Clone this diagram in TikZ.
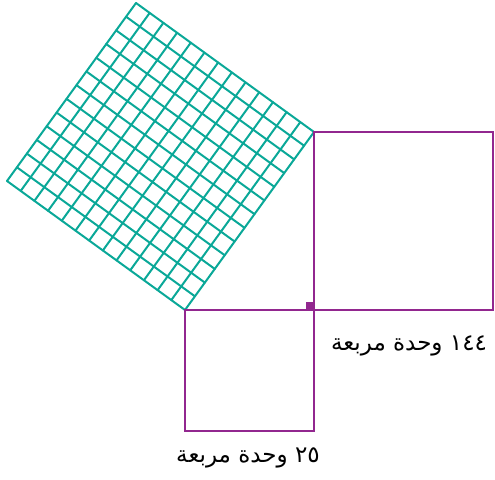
\documentclass[tikz,border=0pt]{standalone}
\usepackage{fontspec}
\newfontfamily\arabicfont[Script=Arabic]{DejaVu Sans}
\TeXXeTstate=1
\usepackage{tikz}
\definecolor{sqpurple}{RGB}{146,39,143}
\definecolor{gridteal}{RGB}{10,168,152}
\tikzset{
    sqline/.style={draw=sqpurple, line width=2.6pt},
    gridline/.style={draw=gridteal, line width=2pt},
    arealabel/.style={font=\arabicfont\fontsize{23}{26}\selectfont}
}

\begin{document}
\begin{tikzpicture}[x=1pt, y=1pt]
    \useasboundingbox (0,0) rectangle (495,479);

    % Corners of the triangle
    \coordinate (B) at (185,169);
    \coordinate (C) at (314,169);
    \coordinate (A) at (314,347);

    % Square on the hypotenuse
    \begin{scope}[shift={(B)}, x={(9.923pt,13.692pt)}, y={(-13.692pt,9.923pt)}]
        \foreach \i in {0,...,13} {
            \draw[gridline, line cap=round] (\i,0) -- (\i,13);
            \draw[gridline, line cap=round] (0,\i) -- (13,\i);
        }
    \end{scope}

    % Squares on the legs
    \draw[sqline] (C) rectangle (493,347);
    \draw[sqline] (B) rectangle (314,48);

    % Right angle mark
    \fill[sqpurple] (C) rectangle ++(-8,8);

    % Labels
    \node[arealabel] (bigarea) at (409,133) {\beginR ١٤٤ وحدة مربعة\endR};
    \node[arealabel] (smallarea) at (248,21) {\beginR ٢٥ وحدة مربعة\endR};
\end{tikzpicture}
\end{document}
